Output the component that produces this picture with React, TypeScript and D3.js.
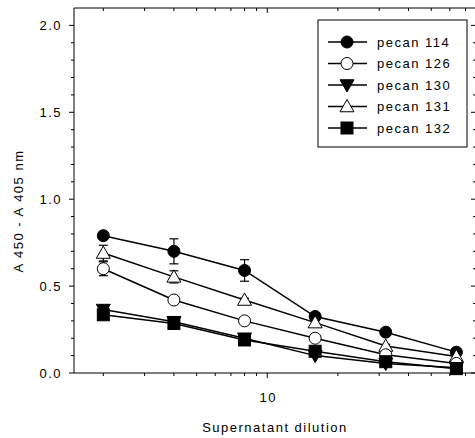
import React from "react";
import * as d3 from "d3";

const dilutions = [2, 4, 8, 16, 32, 64];
const pecan114 = [0.79, 0.70, 0.59, 0.325, 0.235, 0.12];
const pecan114Err = [0.02, 0.072, 0.062, 0.015, 0.01, 0.01];
const pecan126 = [0.60, 0.42, 0.30, 0.20, 0.105, 0.055];
const pecan126Err = [0.04, 0.01, 0.01, 0.01, 0.01, 0.01];
const pecan130 = [0.365, 0.295, 0.20, 0.10, 0.055, 0.03];
const pecan131 = [0.69, 0.553, 0.42, 0.29, 0.155, 0.095];
const pecan131Err = [0.045, 0.035, 0.01, 0.01, 0.01, 0.01];
const pecan132 = [0.335, 0.285, 0.19, 0.125, 0.065, 0.025];

const seriesNames = ["pecan 114", "pecan 126", "pecan 130", "pecan 131", "pecan 132"];
const seriesMarkers = ["circleFilled", "circleOpen", "triDownFilled", "triUpOpen", "squareFilled"];
const yMajorTicks = [0, 0.5, 1.0, 1.5, 2.0];
const yMinorTicks = [0.1, 0.2, 0.3, 0.4, 0.6, 0.7, 0.8, 0.9, 1.1, 1.2, 1.3, 1.4, 1.6, 1.7, 1.8, 1.9];
const xMajorTicks = [10];
const xMinorTicks = [2, 3, 4, 5, 6, 7, 8, 9, 20, 30, 40, 50, 60, 70];

const W = 475, H = 438;
const L = 74, R = 476, T = 8, B = 373;
const FONT = "'Liberation Sans', Arial, sans-serif";

function Marker({ type, x, y }: { type: string; x: number; y: number }) {
  const sw = 1;
  if (type === "circleFilled") return <circle cx={x} cy={y} r={6} fill="#000" stroke="#000" strokeWidth={sw} />;
  if (type === "circleOpen") return <circle cx={x} cy={y} r={6} fill="#fff" stroke="#000" strokeWidth={sw} />;
  if (type === "squareFilled") return <rect x={x - 6} y={y - 6} width={12} height={12} fill="#000" stroke="#000" strokeWidth={sw} />;
  if (type === "triUpOpen") {
    const s = 7;
    return <polygon points={`${x},${y - s} ${x - s},${y + s * 0.75} ${x + s},${y + s * 0.75}`} fill="#fff" stroke="#000" strokeWidth={sw} />;
  }
  const s = 7;
  return <polygon points={`${x},${y + s} ${x - s},${y - s * 0.75} ${x + s},${y - s * 0.75}`} fill="#000" stroke="#000" strokeWidth={sw} />;
}

export default function App() {
  const x = d3.scaleLog().domain([1.5, 77.6]).range([L, R]);
  const y = d3.scaleLinear().domain([0, 2.1]).range([B, T]);
  const allSeries = [pecan114, pecan126, pecan130, pecan131, pecan132];
  const errs: (number[] | null)[] = [pecan114Err, pecan126Err, null, pecan131Err, null];
  const line = d3.line<number>().x((_, i) => x(dilutions[i])).y((v) => y(v));
  const drawOrder = [0, 3, 1, 2, 4];
  const textStyle = { fontFamily: FONT, fontSize: 13, letterSpacing: 1.5 } as React.CSSProperties;

  return (
    <svg width={W} height={H} style={{ position: "absolute", left: 0, top: 0, background: "#fff" }}>
      <rect x={0} y={0} width={W} height={H} fill="#fff" />
      {/* axes frame */}
      <line x1={L} y1={T} x2={L} y2={B} stroke="#000" strokeWidth={1} />
      <line x1={L} y1={B} x2={R} y2={B} stroke="#000" strokeWidth={1} />
      <line x1={L} y1={T} x2={R} y2={T} stroke="#000" strokeWidth={1} />
      {/* y ticks */}
      {yMajorTicks.map((t) => (
        <g key={"ym" + t}>
          <line x1={L - 5} x2={L} y1={y(t)} y2={y(t)} stroke="#000" />
          <line x1={R - 5} x2={R} y1={y(t)} y2={y(t)} stroke="#000" />
          <text x={62} y={y(t)} dy="0.35em" textAnchor="end" style={textStyle}>{t.toFixed(1)}</text>
        </g>
      ))}
      {yMinorTicks.map((t) => (
        <g key={"yn" + t}>
          <line x1={L - 3} x2={L} y1={y(t)} y2={y(t)} stroke="#000" />
          <line x1={R - 3} x2={R} y1={y(t)} y2={y(t)} stroke="#000" />
        </g>
      ))}
      {/* x ticks */}
      {xMajorTicks.map((t) => (
        <g key={"xm" + t}>
          <line x1={x(t)} x2={x(t)} y1={B} y2={B + 5} stroke="#000" />
          <line x1={x(t)} x2={x(t)} y1={T} y2={T + 5} stroke="#000" />
          <text x={x(t) + 1} y={402} textAnchor="middle" style={textStyle}>{t}</text>
        </g>
      ))}
      {xMinorTicks.map((t) => (
        <g key={"xn" + t}>
          <line x1={x(t)} x2={x(t)} y1={B} y2={B + 3} stroke="#000" />
          <line x1={x(t)} x2={x(t)} y1={T} y2={T + 3} stroke="#000" />
        </g>
      ))}
      {/* titles */}
      <text x={(L + R) / 2} y={432} textAnchor="middle" style={textStyle}>Supernatant dilution</text>
      <text transform="translate(23,211) rotate(-90)" textAnchor="middle" style={textStyle}>A 450 - A 405 nm</text>
      {/* lines */}
      {drawOrder.map((si) => (
        <path key={"l" + si} d={line(allSeries[si]) || ""} fill="none" stroke="#000" strokeWidth={1.5} />
      ))}
      {/* error bars */}
      {drawOrder.map((si) => {
        const e = errs[si];
        if (!e) return null;
        return (
          <g key={"e" + si}>
            {allSeries[si].map((v, i) => (
              <g key={i}>
                <line x1={x(dilutions[i])} x2={x(dilutions[i])} y1={y(v + e[i])} y2={y(v - e[i])} stroke="#000" strokeWidth={1.2} />
                <line x1={x(dilutions[i]) - 4.5} x2={x(dilutions[i]) + 4.5} y1={y(v + e[i])} y2={y(v + e[i])} stroke="#000" strokeWidth={1.2} />
                <line x1={x(dilutions[i]) - 4.5} x2={x(dilutions[i]) + 4.5} y1={y(v - e[i])} y2={y(v - e[i])} stroke="#000" strokeWidth={1.2} />
              </g>
            ))}
          </g>
        );
      })}
      {/* markers */}
      {drawOrder.map((si) => (
        <g key={"m" + si}>
          {allSeries[si].map((v, i) => (
            <Marker key={i} type={seriesMarkers[si]} x={x(dilutions[i])} y={y(v)} />
          ))}
        </g>
      ))}
      {/* legend */}
      <rect x={318} y={20} width={149} height={127} fill="#fff" stroke="#000" strokeWidth={1} />
      {seriesNames.map((n, i) => {
        const cy = 42 + i * 21.5;
        return (
          <g key={"lg" + i}>
            <line x1={328} x2={367} y1={cy} y2={cy} stroke="#000" strokeWidth={1.5} />
            <Marker type={seriesMarkers[i]} x={347} y={cy} />
            <text x={377} y={cy} dy="0.36em" style={textStyle}>{n}</text>
          </g>
        );
      })}
    </svg>
  );
}
